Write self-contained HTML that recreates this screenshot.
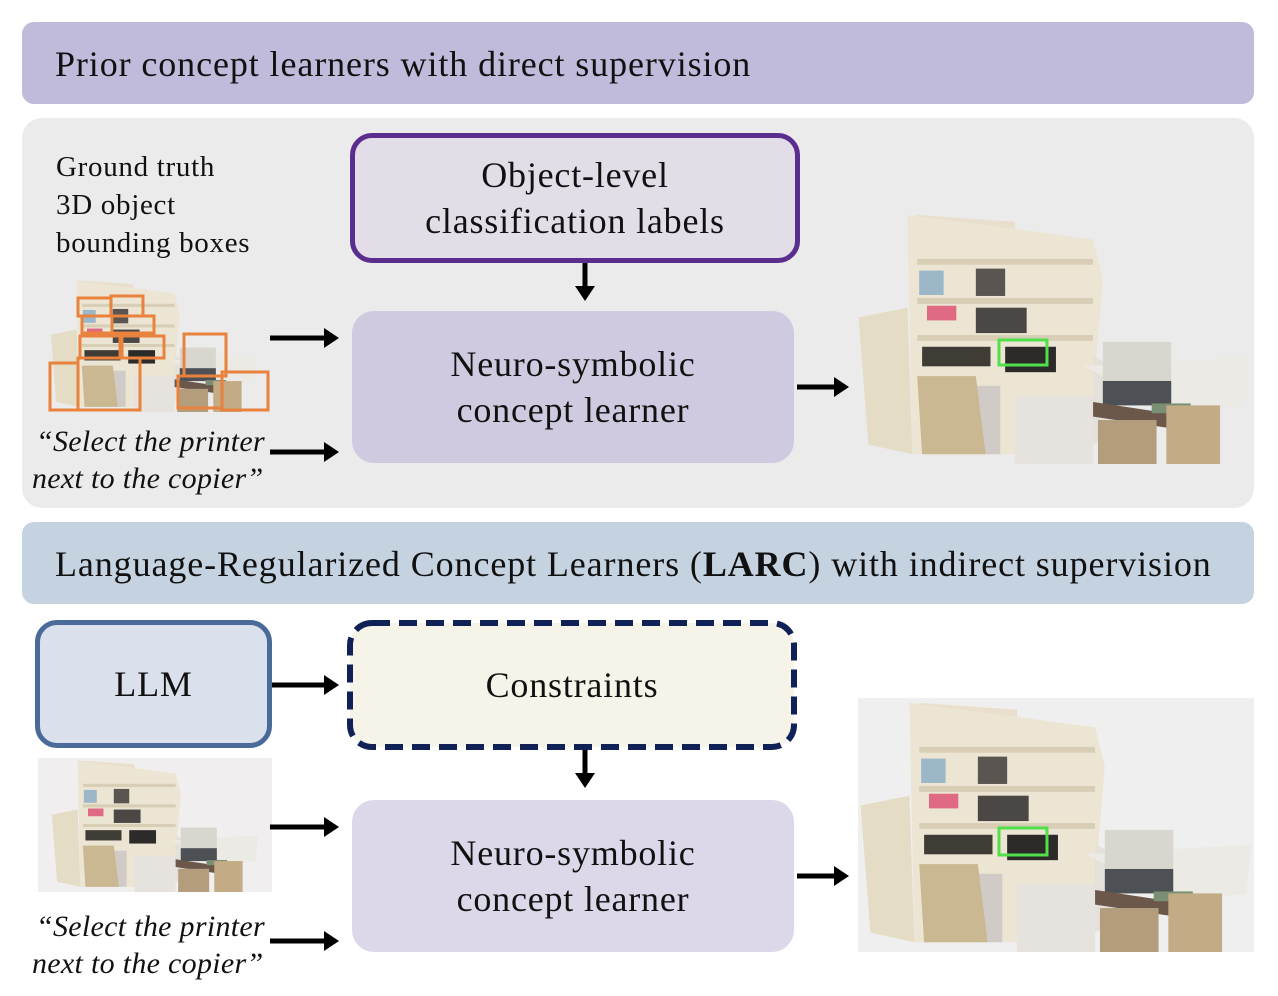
<!DOCTYPE html>
<html><head><meta charset="utf-8"><style>
*{margin:0;padding:0;box-sizing:border-box}
body{width:1278px;height:996px;background:#fff;position:relative;overflow:hidden;font-family:"Liberation Serif",serif;color:#111}
.a{position:absolute}
.hdr{border-radius:12px;font-size:36px;letter-spacing:0.9px;padding-left:33px;line-height:84px;white-space:nowrap}
.box{display:flex;align-items:center;justify-content:center;text-align:center;font-size:36px;letter-spacing:0.8px;line-height:46px}
.t{font-size:29px;letter-spacing:0.7px;line-height:38px}
.q{font-size:30px;letter-spacing:0.3px;font-style:italic;line-height:37px;white-space:nowrap}
</style></head><body>
<svg width="0" height="0" style="position:absolute">
<defs>
<symbol id="scene" viewBox="0 0 400 260">
<path d="M60 5 L160 12 L165 120 L60 150 Z" fill="#e8e0cc"/>
<path d="M50 5 L240 30 L250 70 L235 250 L55 250 Z" fill="#ece5d3"/>
<rect x="60" y="50" width="180" height="6" fill="#d8cdb5"/>
<rect x="60" y="90" width="180" height="6" fill="#d8cdb5"/>
<rect x="60" y="128" width="180" height="6" fill="#d8cdb5"/>
<rect x="120" y="60" width="30" height="28" fill="#5a5550"/>
<rect x="120" y="100" width="52" height="26" fill="#4a4745"/>
<rect x="70" y="98" width="30" height="15" fill="#e06a84"/>
<rect x="62" y="62" width="25" height="25" fill="#9bb7c8"/>
<rect x="65" y="140" width="70" height="20" fill="#3f3c36"/>
<rect x="150" y="140" width="52" height="26" fill="#2c2b2a"/>
<path d="M0 110 L50 100 L55 250 L10 240 Z" fill="#e5dcc6"/>
<rect x="115" y="180" width="30" height="70" fill="#d0cbc6"/>
<path d="M60 170 L120 170 L130 250 L65 250 Z" fill="#c9b891"/>
<path d="M240 150 L260 160 L260 230 L240 240 Z" fill="#e4e0da"/>
<path d="M230 160 L400 150 L395 200 L330 210 Z" fill="#eceae5"/>
<rect x="250" y="135" width="70" height="65" fill="#d9d6cf"/>
<rect x="250" y="175" width="70" height="25" fill="#4d5055"/>
<path d="M230 195 L330 210 L330 225 L230 210 Z" fill="#6b584a"/>
<rect x="300" y="198" width="40" height="10" fill="#7a8f74"/>
<rect x="245" y="215" width="60" height="45" fill="#b39d7d"/>
<rect x="315" y="200" width="55" height="60" fill="#c2ab85"/>
<rect x="160" y="190" width="80" height="70" fill="#e6e3de"/>
</symbol>
</defs></svg>

<div class="a hdr" style="left:22px;top:22px;width:1232px;height:82px;background:#c0bbdb">Prior concept learners with direct supervision</div>
<div class="a" style="left:22px;top:118px;width:1232px;height:390px;background:#ebebeb;border-radius:20px"></div>
<div class="a t" style="left:56px;top:148px">Ground truth<br>3D object<br>bounding boxes</div>

<svg class="a" style="left:38px;top:278px" width="232" height="134">
<use href="#scene" width="232" height="134" preserveAspectRatio="none"/>
<g fill="none" stroke="#e8823c" stroke-width="3">
<rect x="40" y="20" width="33" height="18"/><rect x="73" y="18" width="32" height="20"/>
<rect x="44" y="38" width="30" height="17"/><rect x="74" y="38" width="42" height="17"/>
<rect x="42" y="58" width="40" height="22"/><rect x="84" y="58" width="42" height="22"/>
<rect x="12" y="85" width="28" height="47"/><rect x="40" y="80" width="62" height="52"/>
<rect x="146" y="56" width="42" height="42"/><rect x="140" y="98" width="44" height="32"/><rect x="184" y="94" width="46" height="38"/>
</g></svg>

<div class="a q" style="left:36px;top:423px">“Select the printer</div>
<div class="a q" style="left:32px;top:460px">next to the copier”</div>

<div class="a box" style="left:350px;top:133px;width:450px;height:130px;border:5px solid #5b2d8e;border-radius:22px;background:#e3dde8">Object-level<br>classification labels</div>
<div class="a box" style="left:352px;top:311px;width:442px;height:152px;border-radius:22px;background:#cfcadf">Neuro-symbolic<br>concept learner</div>

<svg class="a" style="left:858px;top:210px" width="392" height="254">
<use href="#scene" width="392" height="254" preserveAspectRatio="none"/>
<rect x="141" y="130" width="48" height="25" fill="none" stroke="#4fe04a" stroke-width="3"/>
</svg>

<div class="a hdr" style="left:22px;top:522px;width:1232px;height:82px;background:#c5d3e1">Language-Regularized Concept Learners (<b>LARC</b>) with indirect supervision</div>

<div class="a box" style="left:35px;top:620px;width:237px;height:128px;border:5px solid #4a6a99;border-radius:22px;background:#dbe1ec">LLM</div>
<svg class="a" style="left:346px;top:619px" width="452" height="132">
<rect x="4" y="4" width="444" height="124" rx="22" fill="#f6f3e8" stroke="#0f2157" stroke-width="6" stroke-dasharray="18 9"/>
</svg>
<div class="a box" style="left:346px;top:619px;width:452px;height:132px">Constraints</div>

<svg class="a" style="left:38px;top:758px" width="234" height="134">
<rect width="234" height="134" fill="#f0eeee"/>
<use href="#scene" width="234" height="134" preserveAspectRatio="none"/>
</svg>
<div class="a q" style="left:36px;top:908px">“Select the printer</div>
<div class="a q" style="left:32px;top:945px">next to the copier”</div>

<div class="a box" style="left:352px;top:800px;width:442px;height:152px;border-radius:22px;background:#dcd8ea">Neuro-symbolic<br>concept learner</div>

<svg class="a" style="left:858px;top:698px" width="396" height="254">
<rect width="396" height="254" fill="#f0efef"/>
<use href="#scene" width="396" height="254" preserveAspectRatio="none"/>
<rect x="141" y="130" width="48" height="27" fill="none" stroke="#4fe04a" stroke-width="3"/>
</svg>

<svg class="a" style="left:0;top:0" width="1278" height="996">
<defs><marker id="ar" markerWidth="4" markerHeight="4" refX="2.2" refY="2" orient="auto" markerUnits="strokeWidth"><path d="M0 0 L3 2 L0 4 Z" fill="#000"/></marker></defs>
<g stroke="#000" stroke-width="5" fill="none" marker-end="url(#ar)">
<line x1="270" y1="338" x2="335" y2="338"/>
<line x1="270" y1="452" x2="335" y2="452"/>
<line x1="797" y1="387" x2="845" y2="387"/>
<line x1="585" y1="263" x2="585" y2="297"/>
<line x1="272" y1="685" x2="335" y2="685"/>
<line x1="585" y1="750" x2="585" y2="784"/>
<line x1="270" y1="827" x2="335" y2="827"/>
<line x1="270" y1="941" x2="335" y2="941"/>
<line x1="797" y1="876" x2="845" y2="876"/>
</g></svg>
</body></html>
